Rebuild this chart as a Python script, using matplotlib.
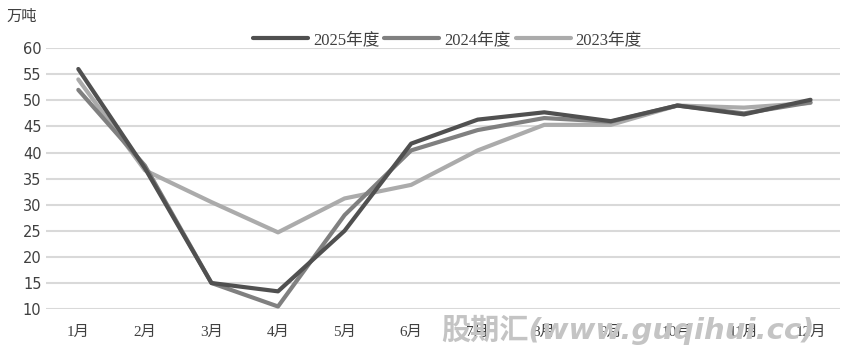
import matplotlib.pyplot as plt

plt.rcParams['font.family'] = ['Liberation Serif', 'Noto Sans CJK SC']

months = ['1月', '2月', '3月', '4月', '5月', '6月', '7月', '8月', '9月', '10月', '11月', '12月']
y2025 = [56.0, 37.0, 15.0, 13.4, 25.0, 41.7, 46.3, 47.7, 46.0, 49.0, 47.3, 50.1]
y2024 = [52.0, 37.5, 15.0, 10.5, 28.0, 40.4, 44.3, 46.6, 45.9, 49.0, 47.5, 49.6]
y2023 = [54.0, 36.6, 30.5, 24.7, 31.2, 33.8, 40.4, 45.3, 45.3, 49.0, 48.6, 49.5]

fig = plt.figure(figsize=(8.43, 3.59), dpi=100)
ax = fig.add_axes([0.055, 0.139, 0.942, 0.727])

x = range(1, 13)
ax.plot(x, y2025, color='#505050', lw=3, label='2025年度', solid_capstyle='round', zorder=5)
ax.plot(x, y2024, color='#808080', lw=3, label='2024年度', solid_capstyle='round', zorder=4)
ax.plot(x, y2023, color='#ababab', lw=3, label='2023年度', solid_capstyle='round', zorder=3)

ax.set_xlim(0.52, 12.45)
ax.set_ylim(10, 60)
ax.set_yticks(range(10, 61, 5))
ax.set_xticks(list(x))
ax.set_xticklabels(months)
ax.grid(axis='y', color='#d9d9d9', lw=1.5)
ax.set_axisbelow(True)
for s in ax.spines.values():
    s.set_visible(False)
ax.tick_params(length=0, labelsize=11, colors='#404040')
ax.tick_params(axis='x', pad=12)
for t in ax.get_yticklabels():
    t.set_family(['DejaVu Sans'])
    t.set_fontsize(10.5)

fig.text(0.008, 0.955, '万吨', fontsize=11, color='#404040', va='center',
         family=['Noto Sans CJK SC'])
ax.legend(loc='center', bbox_to_anchor=(0.505, 1.03), ncol=3, frameon=False,
          fontsize=12, handlelength=3.3, handletextpad=0.3, columnspacing=0.3,
          labelcolor='#404040')

# 水印
fig.text(0.745, 0.08, '股期汇(www.guqihui.cc)', fontsize=21, color='#c4c4c4',
         weight='bold', style='italic', ha='center', va='center',
         family=['DejaVu Sans', 'Noto Sans CJK SC'], zorder=0)

fig.savefig('out.png', dpi=100)
